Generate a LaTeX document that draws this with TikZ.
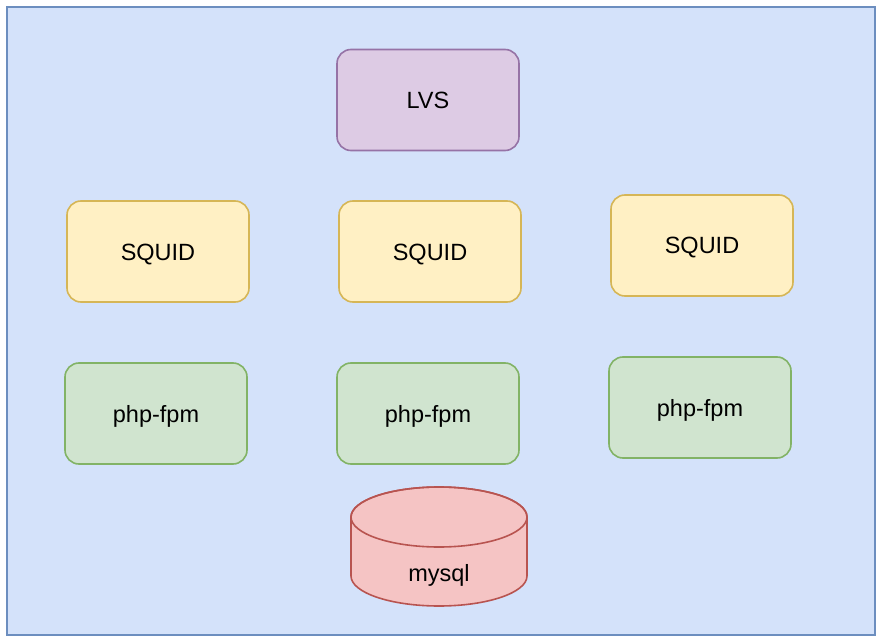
\documentclass[tikz,border=0pt]{standalone}
\usepackage{fontspec}
\setmainfont{Liberation Sans}
\definecolor{bgfill}{HTML}{D4E2FA}
\definecolor{bgline}{HTML}{6C8EBF}
\definecolor{lvsfill}{HTML}{DDCBE4}
\definecolor{lvsline}{HTML}{9673A6}
\definecolor{sqfill}{HTML}{FFF0C4}
\definecolor{sqline}{HTML}{D6B656}
\definecolor{phpfill}{HTML}{D0E4CF}
\definecolor{phpline}{HTML}{82B366}
\definecolor{dbfill}{HTML}{F5C4C4}
\definecolor{dbline}{HTML}{B85450}

\begin{document}
\begin{tikzpicture}[x=1pt,y=-1pt,
  label text/.style={font=\fontsize{23.5}{27}\selectfont,text height=17pt,text depth=0pt},
  box/.style={label text,rounded corners=14pt,line width=1.6pt,minimum width=182pt,minimum height=101pt,
    inner sep=0pt},
  lvsbox/.style={box,draw=lvsline,fill=lvsfill},
  squidbox/.style={box,draw=sqline,fill=sqfill},
  phpbox/.style={box,draw=phpline,fill=phpfill}]
\useasboundingbox (0,0) rectangle (880,636);
\draw[bgline,fill=bgfill,line width=1.6pt] (7,7) rectangle (875,635);
\node[lvsbox] (lvs) at (428,100) {LVS};
\node[squidbox] (squid1) at (158,251.5) {SQUID};
\node[squidbox] (squid2) at (430,251.5) {SQUID};
\node[squidbox] (squid3) at (702,245.5) {SQUID};
\node[phpbox] (php1) at (156,413.5) {php-fpm};
\node[phpbox] (php2) at (428,413.5) {php-fpm};
\node[phpbox] (php3) at (700,407.5) {php-fpm};
% database cylinder
\filldraw[draw=dbline,fill=dbfill,line width=1.6pt]
  (351,517) -- (351,576) arc[start angle=180,end angle=0,x radius=88,y radius=30]
  -- (527,517) arc[start angle=0,end angle=-180,x radius=88,y radius=30] -- cycle;
\draw[dbline,line width=1.6pt] (439,517) ellipse[x radius=88,y radius=30];
\node[label text] (mysql) at (439,573) {mysql};
\end{tikzpicture}
\end{document}
